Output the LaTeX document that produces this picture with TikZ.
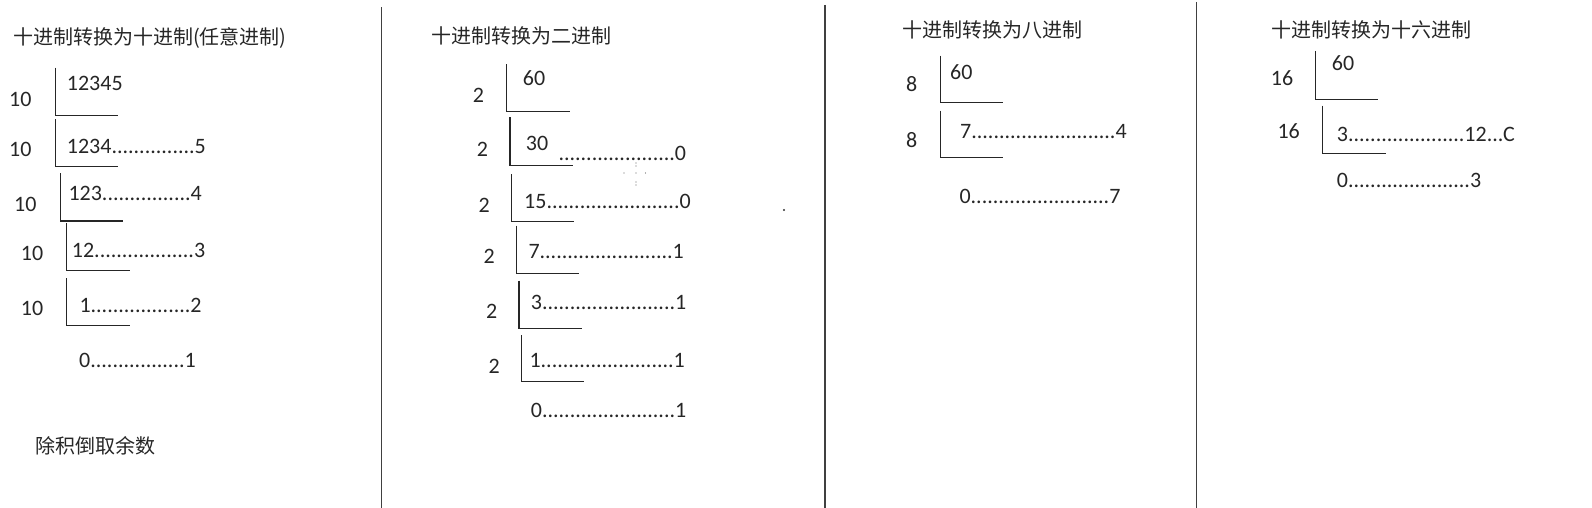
\documentclass[tikz,border=0pt]{standalone}
\usepackage{fontspec}
\setmainfont{Carlito}
\newfontfamily\cjk{Noto Sans CJK SC}
\newcommand\numf{\fontsize{22}{25}\selectfont}
\newcommand\cjkf{\cjk\fontsize{20}{24}\selectfont}
\tikzset{
  num/.style={anchor=base west, inner sep=0pt, font=\numf, text=black!85},
  ttl/.style={anchor=base west, inner sep=0pt, font=\cjkf, text=black!85},
  brk/.style={line width=1.3pt, draw=black!85},
  divl/.style={line width=1.5pt, draw=black!75},
  spk/.style={fill=black!60, draw=none}
}
\begin{document}
\begin{tikzpicture}[x=1pt,y=-1pt]
\useasboundingbox (0,0) rectangle (1592,508);
% dividers
\draw[divl] (381.3,7.3) -- (381.3,508);
\draw[divl] (825,5) -- (825,508);
\draw[divl] (1196.3,2) -- (1196.3,508);

% ---------- panel 1 ----------
\node[ttl] (t1) at (13,45) {十进制转换为十进制(任意进制)};
\node[num] (a1d) at (9,107) {10};
\draw[brk] (55.7,67.7) -- (55.7,115.7) -- (118.3,115.7);
\node[num] (a1q) at (66.7,90.3) {12345};
\node[num] (a2d) at (9,157) {10};
\draw[brk] (55.7,119.3) -- (55.7,166.7) -- (118.3,166.7);
\node[num] (a2q) at (66.7,153.7) {1234...............5};
\node[num] (a3d) at (14,211) {10};
\draw[brk] (60.3,173.3) -- (60.3,221) -- (123.3,221);
\node[num] (a3q) at (68.3,200.3) {123................4};
\node[num] (a4d) at (20.7,260.3) {10};
\draw[brk] (66.7,223.3) -- (66.7,270.7) -- (130,270.7);
\node[num] (a4q) at (71.7,257.7) {12..................3};
\node[num] (a5d) at (20.7,315.3) {10};
\draw[brk] (66.7,278.3) -- (66.7,325.3) -- (130,325.3);
\node[num] (a5q) at (79.3,312) {1..................2};
\node[num] (a6q) at (79,367) {0.................1};
\node[ttl] (f1) at (35,453) {除积倒取余数};

% ---------- panel 2 ----------
\node[ttl] (t2) at (431.7,44) {十进制转换为二进制};
\node[num] (b1d) at (472.7,103) {2};
\draw[brk] (506.7,64.3) -- (506.7,111.7) -- (570,111.7);
\node[num] (b1q) at (522.7,85.3) {60};
\node[num] (b2d) at (476.7,157) {2};
\draw[brk] (510,117.3) -- (510,165.7) -- (573.3,165.7);
\node[num] (b2q) at (525.7,150.3) {30};
\node[num] (b2r) at (558.3,160.3) {.....................0};
\node[num] (b3d) at (478.3,212) {2};
\draw[brk] (511.7,174) -- (511.7,221.7) -- (574.3,221.7);
\node[num] (b3q) at (524,208) {15........................0};
\node[num] (b4d) at (483.3,263.7) {2};
\draw[brk] (516.7,225.7) -- (516.7,273.3) -- (579.3,273.3);
\node[num] (b4q) at (528.3,258.7) {7........................1};
\node[num] (b5d) at (486,318.7) {2};
\draw[brk] (519,280.7) -- (519,328.3) -- (582.3,328.3);
\node[num] (b5q) at (530.7,309.7) {3........................1};
\node[num] (b6d) at (488.3,373.7) {2};
\draw[brk] (521.7,335) -- (521.7,381.7) -- (584.3,381.7);
\node[num] (b6q) at (529.3,367) {1........................1};
\node[num] (b7q) at (530.7,417.7) {0........................1};
% stray specks
\foreach \p in {(636,163),(636,166),(624,173),(636,173),(645.5,173),(636,182),(636,185)}
  \fill[spk] \p circle (0.6);
\fill[black!80] (784,210) circle (1.2);

% ---------- panel 3 ----------
\node[ttl] (t3) at (902.7,38) {十进制转换为八进制};
\node[num] (c1d) at (906,92) {8};
\draw[brk] (940.7,55.7) -- (940.7,102.7) -- (1003.3,102.7);
\node[num] (c1q) at (950,79.7) {60};
\node[num] (c2d) at (906,147) {8};
\draw[brk] (940.7,110.7) -- (940.7,157.7) -- (1003.3,157.7);
\node[num] (c2q) at (960,138.7) {7..........................4};
\node[num] (c3q) at (959.3,203.7) {0.........................7};

% ---------- panel 4 ----------
\node[ttl] (t4) at (1271.7,38) {十进制转换为十六进制};
\node[num] (d1d) at (1270.7,85.3) {16};
\draw[brk] (1315.7,51) -- (1315.7,99.3) -- (1378.3,99.3);
\node[num] (d1q) at (1331.7,70.3) {60};
\node[num] (d2d) at (1277.3,138.7) {16};
\draw[brk] (1322.7,105.7) -- (1322.7,153.3) -- (1385.7,153.3);
\node[num] (d2q) at (1336.7,142) {3.....................12...C};
\node[num] (d3q) at (1336.7,187) {0......................3};
\end{tikzpicture}
\end{document}
